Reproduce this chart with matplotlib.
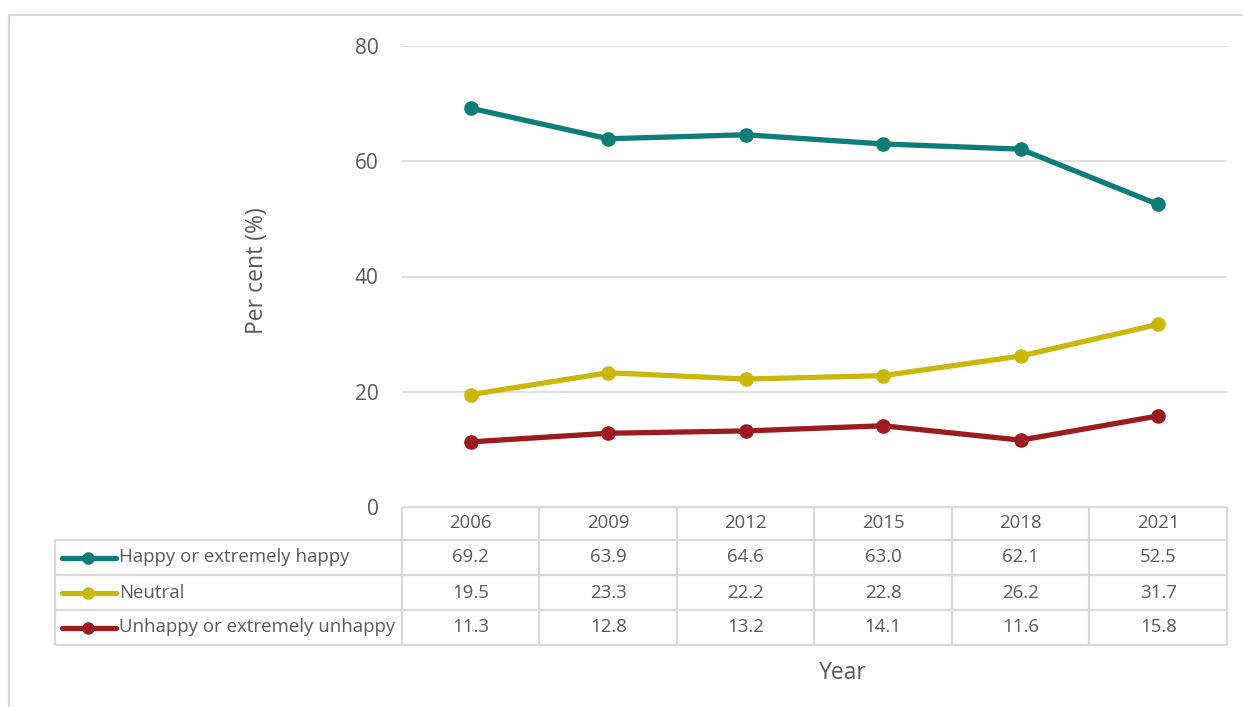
import numpy as np
import matplotlib.pyplot as plt
from matplotlib.lines import Line2D

plt.rcParams['font.family'] = ['Open Sans', 'DejaVu Sans']

# data
years = ['2006', '2009', '2012', '2015', '2018', '2021']
series_names = ['Happy or extremely happy', 'Neutral', 'Unhappy or extremely unhappy']
happy = [69.2, 63.9, 64.6, 63.0, 62.1, 52.5]
neutral = [19.5, 23.3, 22.2, 22.8, 26.2, 31.7]
unhappy = [11.3, 12.8, 13.2, 14.1, 11.6, 15.8]
yticks = [0, 20, 40, 60, 80]

colors = ['#0E7C77', '#C9B80A', '#9B1B1F']
text_col = '#595959'
grid_col = '#D9D9D9'

W, H = 1243, 707
fig = plt.figure(figsize=(W / 100, H / 100), dpi=100)

# pixel-space helpers
def fx(px):
    return px / W

def fy(py):
    return 1 - py / H

left, right, top, bottom = 402, 1227, 46, 507
ax = fig.add_axes([fx(left), fy(bottom), fx(right - left), (bottom - top) / H])

x = np.arange(len(years))
for vals, c in zip([happy, neutral, unhappy], colors):
    ax.plot(x, vals, color=c, lw=3.8, marker='o', ms=9.5, solid_capstyle='round', zorder=3)

ax.set_xlim(-0.5, len(years) - 0.5)
ax.set_ylim(0, 80)
ax.set_yticks(yticks)
ax.set_yticklabels([str(t) for t in yticks], fontsize=15, color=text_col)
ax.tick_params(axis='y', length=0, pad=17)
ax.set_xticks([])
ax.grid(axis='y', color=grid_col, lw=1.2)
ax.set_axisbelow(True)
for s in ax.spines.values():
    s.set_visible(False)

# overlay in pixel coordinates for the frame and data table
ov = fig.add_axes([0, 0, 1, 1], zorder=-1)
ov.set_xlim(0, W)
ov.set_ylim(H, 0)
ov.axis('off')

# outer chart frame
ov.plot([9, 9, W + 5], [H + 5, 15, 15], color=grid_col, lw=1.5)

# table grid
col_w = (right - left) / len(years)
row_tops = [507, 540, 575, 610, 645]
lab_left = 55
tkw = dict(color=grid_col, lw=1.6, solid_capstyle='butt')
ov.plot([left, right], [row_tops[0]] * 2, **tkw)
for yy in row_tops[1:]:
    ov.plot([lab_left, right], [yy] * 2, **tkw)
ov.plot([lab_left, lab_left], [row_tops[1], row_tops[-1]], **tkw)
for i in range(len(years) + 1):
    xx = left + i * col_w
    ov.plot([xx, xx], [row_tops[0], row_tops[-1]], **tkw)

# header
fs_tab = 13.4
for i, yr in enumerate(years):
    ov.text(left + (i + 0.5) * col_w, (row_tops[0] + row_tops[1]) / 2, yr,
            ha='center', va='center', fontsize=fs_tab, color=text_col)

# rows with legend keys
for r, (name, vals, c) in enumerate(zip(series_names, [happy, neutral, unhappy], colors)):
    yc = (row_tops[r + 1] + row_tops[r + 2]) / 2
    ov.add_line(Line2D([62, 116], [yc, yc], color=c, lw=3.8, solid_capstyle='round'))
    ov.plot([88], [yc], marker='o', ms=8, color=c)
    ov.text(119, yc, name, ha='left', va='center', fontsize=fs_tab, color=text_col)
    for i, v in enumerate(vals):
        ov.text(left + (i + 0.5) * col_w, yc, f'{v:.1f}',
                ha='center', va='center', fontsize=fs_tab, color=text_col)

# axis titles
fig.text(fx(257), fy(271), 'Per cent (%)', rotation=90, ha='center', va='center',
         fontsize=16.5, color=text_col)
fig.text(fx(843), fy(673), 'Year', ha='center', va='center', fontsize=16.5, color=text_col)

fig.savefig('out.png', dpi=100)
